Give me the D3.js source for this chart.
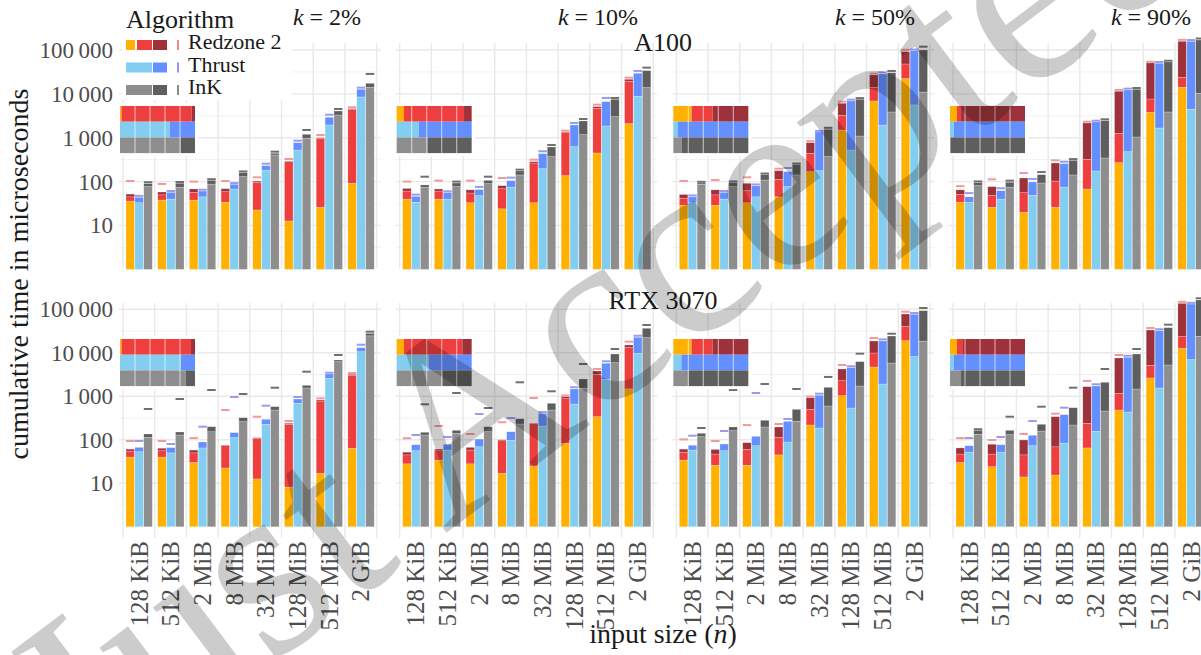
<!DOCTYPE html>
<html>
<head>
<meta charset="utf-8">
<script src="https://cdn.jsdelivr.net/npm/d3@7"></script>
<style>
  body { margin: 0; background: #fff; }
  svg { display: block; }
  text { font-family: "Liberation Serif", "DejaVu Serif", serif; }
</style>
</head>
<body>
<svg id="chart" width="1201" height="655"></svg>
<script>
// ---- categories -------------------------------------------------------
const sizes = ["128 KiB", "512 KiB", "2 MiB", "8 MiB", "32 MiB", "128 MiB", "512 MiB", "2 GiB"];
const kLabels = ["2%", "10%", "50%", "90%"];
const gpus = ["A100", "RTX 3070"];
const algorithms = ["Redzone 2", "Thrust", "InK"];
const yTicks = [10, 100, 1000, 10000, 100000];
const yTickLabels = ["10", "100", "1\u2009000", "10\u2009000", "100\u2009000"];

// ---- cumulative phase times (µs) per input size; last value = reference mark
// Redzone 2: [phase 1, +phase 2, +phase 3, mark]
// Thrust:    [phase 1, +phase 2, mark]
// InK:       [phase 1, +phase 2, mark]
const a100_k2_redzone = [[36,45,52,98],[38,50,58,84],[38,57,68,95],[34,59,69,98],[22.6,97,103,119],[12.7,285,292,311],[26,973,1000,1097],[92,4400,4600,4700]];
const a100_k2_thrust  = [[33,44,45],[40,57,58],[45,61,62],[68,87,88],[181,231,243],[526,772,815],[1955,2930,3185],[8500,12740,13150]];
const a100_k2_ink     = [[77,90,92],[74,92,93],[88,107,108],[130,160,162],[405,443,457],[973,1200,1426],[3300,4075,4300],[14100,17400,27000]];

const a100_k10_redzone = [[40,61,70,95],[40,61,68,100],[33,55,65,100],[24,69,81,115],[33,266,285,300],[137,1306,1350,1376],[450,4700,5110,5390],[2100,19300,21500,22200]];
const a100_k10_thrust  = [[34,46,48],[40,56,57],[48,66,72],[75,105,117],[198,434,467],[627,1955,2060],[1855,6640,7660],[8800,29500,31600]];
const a100_k10_ink     = [[74,84,123],[77,93,95],[90,107,123],[142,175,178],[371,616,649],[1175,2411,2540],[3025,7540,7660],[13900,33900,37600]];

const a100_k50_redzone = [[29,42,51,98],[29,50,65,103],[33,62,92,119],[45,113,178,187],[169,443,772,790],[1500,3250,6110,6300],[6890,14100,27000,27500],[22350,48000,91600,96000]];
const a100_k50_thrust  = [[33,45,46],[40,57,58],[45,80,82],[77,169,194],[178,1354,1360],[526,6890,7000],[1955,28400,29500],[5600,96600,97000]];
const a100_k50_ink     = [[87,93,94],[77,95,96],[109,144,145],[142,243,245],[371,1560,1600],[1097,7540,7600],[3870,30400,31600],[11000,100000,113000]];

const a100_k90_redzone = [[34,51,65,75],[26,49,77,107],[20,56,121,149],[26,103,266,290],[68,323,2170,2200],[270,1265,11460,11700],[3800,7650,50600,51000],[14100,23900,158000,162000]];
const a100_k90_thrust  = [[34,45,52],[40,62,67],[49,98,109],[75,257,270],[175,2290,2320],[482,12270,12500],[1670,49800,50600],[4460,158000,160000]];
const a100_k90_ink     = [[81,95,96],[75,97,100],[93,144,157],[142,306,310],[346,2450,2500],[1042,12740,12900],[3870,53300,54000],[10300,169000,173000]];

const rtx_k2_redzone = [[40,55,61,89],[40,56,64,89],[30,50,58,104],[22.5,73,75,459],[12.6,108,112,322],[8.2,227,240,257],[17,780,822,850],[64,3030,3200,3250]];
const rtx_k2_thrust  = [[53,67,89],[50,66,76],[65,89,190],[112,146,914],[227,296,577],[690,867,914],[2594,3256,3300],[10600,13100,14550]];
const rtx_k2_ink     = [[114,136,484],[129,151,822],[153,200,1324],[261,322,1071],[484,577,1496],[1552,1790,3490],[6250,6830,8440],[24500,28000,29000]];

const rtx_k10_redzone = [[28,45,52,103],[34,56,61,197],[28,58,67,129],[17,95,100,240],[25,234,240,867],[83,881,980,990],[340,3200,3820,4025],[1480,13230,15100,17100]];
const rtx_k10_thrust  = [[56,77,122],[58,79,110],[69,104,372],[97,153,300],[207,406,410],[665,1472,1530],[2460,5740,6050],[9700,22700,23400]];
const rtx_k10_ink     = [[129,149,621],[141,165,1130],[153,200,511],[231,305,1990],[484,690,1236],[1528,2500,5250],[5920,9380,11600],[22300,36600,41300]];

const rtx_k50_redzone = [[34,52,61,97],[26,47,60,89],[26,60,86,207],[45,114,197,219],[219,502,929,940],[1035,2285,4245,4970],[4720,9890,18700,20800],[19000,40900,78000,83500]];
const rtx_k50_thrust  = [[58,75,118],[56,80,151],[73,120,1130],[89,266,285],[187,1055,1090],[538,4550,4650],[1918,18700,19300],[8200,76700,78000]];
const rtx_k50_ink     = [[118,141,177],[162,197,1324],[197,281,1820],[266,502,1396],[598,1610,2640],[1725,6250,9050],[5830,24300,26000],[18600,93000,101600]];

const rtx_k90_redzone = [[30,47,65,104],[24,47,79,94],[14,45,99,129],[15.5,69,340,378],[65,240,1667,2140],[484,1172,7590,8440],[2640,5160,33400,35300],[12700,23700,137000,141000]];
const rtx_k90_thrust  = [[52,73,104],[52,77,110],[73,127,257],[84,378,520],[157,1725,1790],[436,7890,8100],[1552,32200,33000],[7000,132000,133000]];
const rtx_k90_ink     = [[134,165,166],[131,165,322],[159,227,547],[219,547,1496],[459,2100,4025],[1472,9380,11600],[5250,37800,42000],[24000,163700,170000]];

// ---- phase shares (%) shown in each panel's inset strip, cumulative boundaries
const a100_shares = [ [[2, 95.5],[66.7],[81]], [[9.8, 89.8],[29.8],[41]], [[24.4, 52.4],[5.8],[11]], [[9.3, 14.7],[5.3],[1]] ];
const rtx_shares  = [ [[2, 94.7],[81],[87.5]], [[9.8, 87.6],[42.7],[61]], [[24.4, 52.4],[10.7],[20]], [[9.3, 17.3],[5.3],[14.7]] ];

// ---- styling ----------------------------------------------------------
const phaseColors = [
  ["#FFB000", "#EE3E3E", "#9E323B"],
  ["#83CDF1", "#648FFF"],
  ["#8E8E8E", "#5E5E5E"]
];
const markColors = ["#F29A9A", "#9A9AEE", "#707070"];
const legendMarkColors = ["#E84A4A", "#5A5AE8", "#4A4A4A"];

const panelData = [
  [[a100_k2_redzone, a100_k2_thrust, a100_k2_ink], [a100_k10_redzone, a100_k10_thrust, a100_k10_ink],
   [a100_k50_redzone, a100_k50_thrust, a100_k50_ink], [a100_k90_redzone, a100_k90_thrust, a100_k90_ink]],
  [[rtx_k2_redzone, rtx_k2_thrust, rtx_k2_ink], [rtx_k10_redzone, rtx_k10_thrust, rtx_k10_ink],
   [rtx_k50_redzone, rtx_k50_thrust, rtx_k50_ink], [rtx_k90_redzone, rtx_k90_thrust, rtx_k90_ink]]
];
const panelShares = [a100_shares, rtx_shares];

const svg = d3.select("#chart");

// ---- scales -----------------------------------------------------------
const xPanel = d3.scaleBand().domain(kLabels).range([123, 1206.6]).paddingInner(0.0834).paddingOuter(0);
const xSize = d3.scaleBand().domain(sizes).range([0, xPanel.bandwidth()]);
const xAlg = d3.scaleBand().domain(algorithms).range([3, xSize.bandwidth() - 2]);

const rows = [
  { y: d3.scaleLog().domain([1, 1e5]).range([269.4, 50]), top: 43, bottom: 268 },
  { y: d3.scaleLog().domain([1, 1e5]).range([526.8, 309.3]), top: 303, bottom: 538 }
];
const majorVals = yTicks;
const minorVals = [0.5, 1.5, 2.5, 3.5, 4.5].map(e => Math.pow(10, e));

const gGrid = svg.append("g");
const gBars = svg.append("g");
const gOver = svg.append("g");

rows.forEach((row, r) => {
  const y = row.y;
  kLabels.forEach((k, p) => {
    const x0 = xPanel(k);
    const w = xPanel.bandwidth();
    // horizontal grid
    gGrid.selectAll(null).data(minorVals).join("line")
      .attr("x1", x0 - 4).attr("x2", x0 + w + 4)
      .attr("y1", d => y(d)).attr("y2", d => y(d))
      .attr("stroke", "#f1f1f1").attr("stroke-width", 1);
    gGrid.selectAll(null).data(majorVals).join("line")
      .attr("x1", x0 - 4).attr("x2", x0 + w + 4)
      .attr("y1", d => y(d)).attr("y2", d => y(d))
      .attr("stroke", "#e9e9e9").attr("stroke-width", 1.4);
    // vertical grid at group boundaries
    const bounds = sizes.map(s => x0 + xSize(s)).concat([x0 + w]);
    gGrid.selectAll(null).data(bounds).join("line")
      .attr("x1", d => d).attr("x2", d => d)
      .attr("y1", row.top).attr("y2", row.bottom)
      .attr("stroke", "#e9e9e9").attr("stroke-width", 1.4);

    // stacked bars
    const series = panelData[r][p];
    sizes.forEach((s, i) => {
      algorithms.forEach((a, ai) => {
        const vals = series[ai][i];
        const ends = vals.slice(0, vals.length - 1);
        const mark = vals[vals.length - 1];
        const bx = x0 + xSize(s) + xAlg(a);
        const bw = xAlg.bandwidth() - 0.4;
        const segs = ends.map((v, j) => ({ lo: j === 0 ? 1 : ends[j - 1], hi: v, c: phaseColors[ai][j] }));
        gBars.selectAll(null).data(segs).join("rect")
          .attr("x", bx).attr("width", bw)
          .attr("y", d => y(d.hi)).attr("height", d => Math.max(0, y(d.lo) - y(d.hi)))
          .attr("fill", d => d.c)
          .attr("stroke", "#fff").attr("stroke-opacity", 0.45).attr("stroke-width", 0.5);
        gBars.append("line")
          .attr("x1", bx).attr("x2", bx + bw)
          .attr("y1", y(mark) - 1).attr("y2", y(mark) - 1)
          .attr("stroke", markColors[ai]).attr("stroke-width", 2);
      });
    });

    // inset strip with the share of each phase
    const insetX = x0 - 3, insetW = 75, rowH = 15.7;
    const insetY = r === 0 ? 106 : 339;
    const insetX2 = d3.scaleLinear().domain([0, 100]).range([insetX, insetX + insetW]);
    gOver.append("rect").attr("x", insetX - 2).attr("y", insetY - 3)
      .attr("width", insetW + 5).attr("height", 3 * rowH + 6).attr("fill", "#fff");
    panelShares[r][p].forEach((cuts, ai) => {
      const b = [0].concat(cuts, [100]);
      const parts = d3.range(b.length - 1).map(j => ({ lo: b[j], hi: b[j + 1], c: phaseColors[ai][j] }));
      gOver.selectAll(null).data(parts).join("rect")
        .attr("x", d => insetX2(d.lo)).attr("width", d => insetX2(d.hi) - insetX2(d.lo))
        .attr("y", insetY + ai * rowH).attr("height", rowH)
        .attr("fill", d => d.c);
    });
    gOver.selectAll(null).data([20, 40, 60, 80]).join("line")
      .attr("x1", d => insetX2(d)).attr("x2", d => insetX2(d))
      .attr("y1", insetY).attr("y2", insetY + 3 * rowH)
      .attr("stroke", "#fff").attr("stroke-opacity", 0.55).attr("stroke-width", 1.2);
  });

  // y axis labels
  const yAxis = d3.axisLeft(y).tickValues(yTicks)
    .tickFormat((d, i) => yTickLabels[i]).tickSize(0).tickPadding(0);
  const ga = svg.append("g").attr("transform", "translate(113,0)").call(yAxis);
  ga.select(".domain").remove();
  ga.selectAll("text").attr("font-family", "Liberation Serif").attr("font-size", 23)
    .attr("fill", "#4d4d4d");
});

// x labels under the bottom row
kLabels.forEach(k => {
  const x0 = xPanel(k);
  svg.selectAll(null).data(sizes).join("text")
    .attr("transform", s => `translate(${x0 + xSize(s) + xSize.bandwidth() / 2},541) rotate(-90)`)
    .attr("text-anchor", "end").attr("dy", "0.35em")
    .attr("font-size", 25).attr("fill", "#4d4d4d")
    .text(s => s);
});

// panel titles
const titleX = [327, 598, 875, 1151];
kLabels.forEach((k, i) => {
  const t = svg.append("text").attr("x", titleX[i]).attr("y", 25)
    .attr("text-anchor", "middle").attr("font-size", 24).attr("fill", "#1a1a1a");
  t.append("tspan").attr("font-style", "italic").text("k");
  t.append("tspan").text(" = " + k);
});
svg.append("text").attr("x", 663).attr("y", 51).attr("text-anchor", "middle")
  .attr("font-size", 26).attr("fill", "#1a1a1a").text(gpus[0]);
svg.append("text").attr("x", 663).attr("y", 309).attr("text-anchor", "middle")
  .attr("font-size", 26).attr("fill", "#1a1a1a").text(gpus[1]);

// axis titles
svg.append("text").attr("transform", "translate(28,274) rotate(-90)")
  .attr("text-anchor", "middle").attr("font-size", 28).attr("fill", "#1a1a1a")
  .text("cumulative time in microseconds");
const xt = svg.append("text").attr("x", 663).attr("y", 643).attr("text-anchor", "middle")
  .attr("font-size", 28).attr("fill", "#1a1a1a");
xt.append("tspan").text("input size (");
xt.append("tspan").attr("font-style", "italic").text("n");
xt.append("tspan").text(")");

// legend
const lg = svg.append("g");
lg.append("rect").attr("x", 122).attr("y", 4).attr("width", 170).attr("height", 96).attr("fill", "#fff");
lg.append("text").attr("x", 126).attr("y", 28).attr("font-size", 26).attr("fill", "#1a1a1a").text("Algorithm");
const keyParts = [
  [[126, 135], [137, 152], [153, 167]],
  [[126, 152], [153, 167]],
  [[126, 152], [153, 167]]
];
algorithms.forEach((a, ai) => {
  const ky = 40 + ai * 22.5;
  keyParts[ai].forEach((pr, j) => {
    lg.append("rect").attr("x", pr[0]).attr("y", ky).attr("width", pr[1] - pr[0]).attr("height", 10)
      .attr("fill", phaseColors[ai][j]);
  });
  lg.append("line").attr("x1", 178).attr("x2", 178).attr("y1", ky).attr("y2", ky + 10)
    .attr("stroke", legendMarkColors[ai]).attr("stroke-width", 1.3);
  lg.append("text").attr("x", 188).attr("y", ky + 9).attr("font-size", 22).attr("fill", "#1a1a1a").text(a);
});

// diagonal watermark
svg.append("text")
  .attr("transform", "translate(88,803) rotate(-37)")
  .attr("font-family", "Liberation Sans, Arial, sans-serif")
  .attr("font-size", 255).attr("fill", "#000").attr("fill-opacity", 0.2)
  .text("Just Accepted");
</script>
</body>
</html>
